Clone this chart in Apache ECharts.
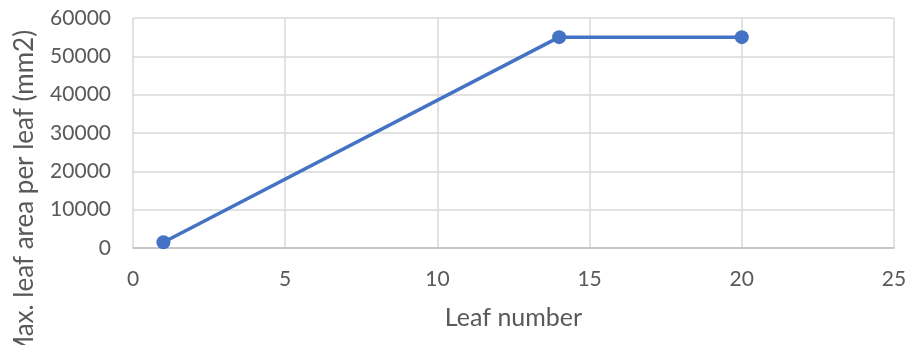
<!DOCTYPE html>
<html><head><meta charset="utf-8">
<script src="https://cdn.jsdelivr.net/npm/echarts@6/dist/echarts.min.js"></script>
<style>html,body{margin:0;padding:0;background:#fff}#c{width:921px;height:345px}</style>
</head><body><div id="c"></div>
<script>
const leafNumber = [1, 14, 20];
const leafArea = [1500, 55000, 55000];
const xTitle = 'Leaf number';
const yTitle = 'Max. leaf area per leaf (mm2)';

const font = 'Lato, "Open Sans", sans-serif';
const chart = echarts.init(document.getElementById('c'));
chart.setOption({
  animation: false,
  grid: {left: 133, right: 27, top: 18, bottom: 97, containLabel: false},
  graphic: [{
    type: 'text', x: 25, y: 195, rotation: Math.PI / 2,
    style: {text: yTitle, fill: '#595959', fontSize: 26, fontFamily: font,
            align: 'center', verticalAlign: 'middle'}
  }],
  xAxis: {
    type: 'value', min: 0, max: 25, interval: 5,
    name: xTitle, nameLocation: 'middle', nameGap: 57,
    nameTextStyle: {color: '#595959', fontSize: 25, fontFamily: font},
    axisLine: {show: true, lineStyle: {color: '#bfbfbf', width: 1.5}},
    axisTick: {show: false},
    axisLabel: {color: '#595959', fontSize: 21, fontFamily: font, margin: 21,
                formatter: v => String(v)},
    splitLine: {show: true, lineStyle: {color: '#d9d9d9', width: 1.5}}
  },
  yAxis: {
    type: 'value', min: 0, max: 60000, interval: 10000,
    axisLine: {show: false},
    axisTick: {show: false},
    axisLabel: {color: '#595959', fontSize: 21, fontFamily: font, margin: 22,
                formatter: v => String(v)},
    splitLine: {show: true, lineStyle: {color: '#d9d9d9', width: 1.5}}
  },
  series: [{
    type: 'line',
    data: leafNumber.map((x, i) => [x, leafArea[i]]),
    symbol: 'circle', symbolSize: 14,
    lineStyle: {color: '#4472C4', width: 3.5},
    itemStyle: {color: '#4472C4'}
  }]
});
</script></body></html>
